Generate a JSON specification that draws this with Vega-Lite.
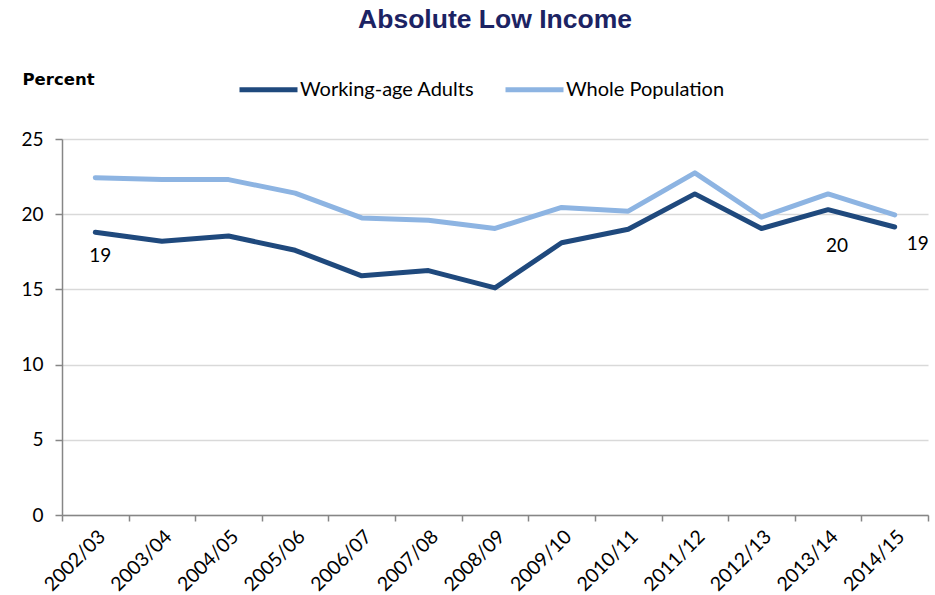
{
  "$schema": "https://vega.github.io/schema/vega-lite/v6.json",
  "width": 866,
  "height": 376,
  "autosize": "none",
  "padding": {"left": 62, "top": 139, "right": 7, "bottom": 80},
  "background": "white",
  "title": {
    "text": "Absolute Low Income",
    "font": "Liberation Sans",
    "fontSize": 26.5,
    "fontWeight": "bold",
    "color": "#1C2363",
    "anchor": "middle",
    "baseline": "middle",
    "offset": 12
  },
  "config": {
    "view": {"stroke": null},
    "font": "Lato"
  },
  "data": {
    "values": [
      {"year": "2002/03", "series": "Working-age Adults", "value": 18.8},
      {"year": "2003/04", "series": "Working-age Adults", "value": 18.2},
      {"year": "2004/05", "series": "Working-age Adults", "value": 18.55},
      {"year": "2005/06", "series": "Working-age Adults", "value": 17.6},
      {"year": "2006/07", "series": "Working-age Adults", "value": 15.9},
      {"year": "2007/08", "series": "Working-age Adults", "value": 16.25},
      {"year": "2008/09", "series": "Working-age Adults", "value": 15.1},
      {"year": "2009/10", "series": "Working-age Adults", "value": 18.1},
      {"year": "2010/11", "series": "Working-age Adults", "value": 19.0},
      {"year": "2011/12", "series": "Working-age Adults", "value": 21.35},
      {"year": "2012/13", "series": "Working-age Adults", "value": 19.05},
      {"year": "2013/14", "series": "Working-age Adults", "value": 20.3},
      {"year": "2014/15", "series": "Working-age Adults", "value": 19.15},
      {"year": "2002/03", "series": "Whole Population", "value": 22.43},
      {"year": "2003/04", "series": "Whole Population", "value": 22.3},
      {"year": "2004/05", "series": "Whole Population", "value": 22.3},
      {"year": "2005/06", "series": "Whole Population", "value": 21.4},
      {"year": "2006/07", "series": "Whole Population", "value": 19.75},
      {"year": "2007/08", "series": "Whole Population", "value": 19.6},
      {"year": "2008/09", "series": "Whole Population", "value": 19.05},
      {"year": "2009/10", "series": "Whole Population", "value": 20.45},
      {"year": "2010/11", "series": "Whole Population", "value": 20.2},
      {"year": "2011/12", "series": "Whole Population", "value": 22.75},
      {"year": "2012/13", "series": "Whole Population", "value": 19.8},
      {"year": "2013/14", "series": "Whole Population", "value": 21.35},
      {"year": "2014/15", "series": "Whole Population", "value": 19.95}
    ]
  },
  "encoding": {
    "x": {
      "field": "year",
      "type": "ordinal",
      "sort": null,
      "scale": {"type": "band", "paddingInner": 0, "paddingOuter": 0},
      "axis": {
        "title": null,
        "tickBand": "extent",
        "labelAngle": -45,
        "labelFontSize": 19.5,
        "labelFont": "Lato",
        "labelColor": "#000000",
        "domainColor": "#868686",
        "domainWidth": 1.5,
        "tickColor": "#868686",
        "tickWidth": 1.5,
        "tickSize": 6,
        "labelPadding": 6,
        "grid": false
      }
    },
    "y": {
      "field": "value",
      "type": "quantitative",
      "scale": {"domain": [0, 25], "nice": false},
      "axis": {
        "values": [0, 5, 10, 15, 20, 25],
        "title": "Percent",
        "titleAngle": 0,
        "titleAlign": "left",
        "titleBaseline": "middle",
        "titleX": -40,
        "titleY": -60,
        "titleFont": "DejaVu Sans",
        "titleFontSize": 16.5,
        "titleFontWeight": "bold",
        "titleColor": "#000000",
        "labelFontSize": 19,
        "labelFont": "Lato",
        "labelColor": "#000000",
        "labelPadding": 12,
        "domainColor": "#868686",
        "domainWidth": 1.5,
        "tickColor": "#868686",
        "tickWidth": 1.5,
        "tickSize": 7,
        "gridColor": "#D9D9D9",
        "gridWidth": 1.5
      }
    }
  },
  "layer": [
    {
      "mark": {"type": "line", "strokeWidth": 5, "strokeJoin": "round", "strokeCap": "round"},
      "encoding": {
        "color": {
          "field": "series",
          "type": "nominal",
          "sort": ["Working-age Adults", "Whole Population"],
          "scale": {"domain": ["Working-age Adults", "Whole Population"], "range": ["#1F497D", "#8DB4E2"]},
          "legend": {
            "title": null,
            "orient": "none",
            "direction": "horizontal",
            "legendX": 175,
            "legendY": -81,
            "symbolType": "stroke",
            "symbolSize": 3364,
            "symbolStrokeWidth": 5,
            "labelFontSize": 20,
            "labelFont": "Lato",
            "labelColor": "#000000",
            "labelOffset": 0,
            "labelLimit": 400,
            "columnPadding": 20
          }
        },
        "order": {"field": "year"}
      }
    },
    {
      "transform": [{"filter": "datum.series === 'Working-age Adults' && datum.year === '2002/03'"}],
      "mark": {"type": "text", "fontSize": 19, "font": "Lato", "color": "#000000", "dy": 24, "dx": 5},
      "encoding": {"text": {"field": "value", "type": "quantitative", "format": ".0f"}}
    },
    {
      "transform": [{"filter": "datum.series === 'Working-age Adults' && datum.year === '2013/14'"}],
      "mark": {"type": "text", "fontSize": 19, "font": "Lato", "color": "#000000", "dy": 36, "dx": 9},
      "encoding": {"text": {"field": "value", "type": "quantitative", "format": ".0f"}}
    },
    {
      "transform": [{"filter": "datum.series === 'Working-age Adults' && datum.year === '2014/15'"}],
      "mark": {"type": "text", "fontSize": 19, "font": "Lato", "color": "#000000", "dy": 17, "dx": 23},
      "encoding": {"text": {"field": "value", "type": "quantitative", "format": ".0f"}}
    }
  ]
}
